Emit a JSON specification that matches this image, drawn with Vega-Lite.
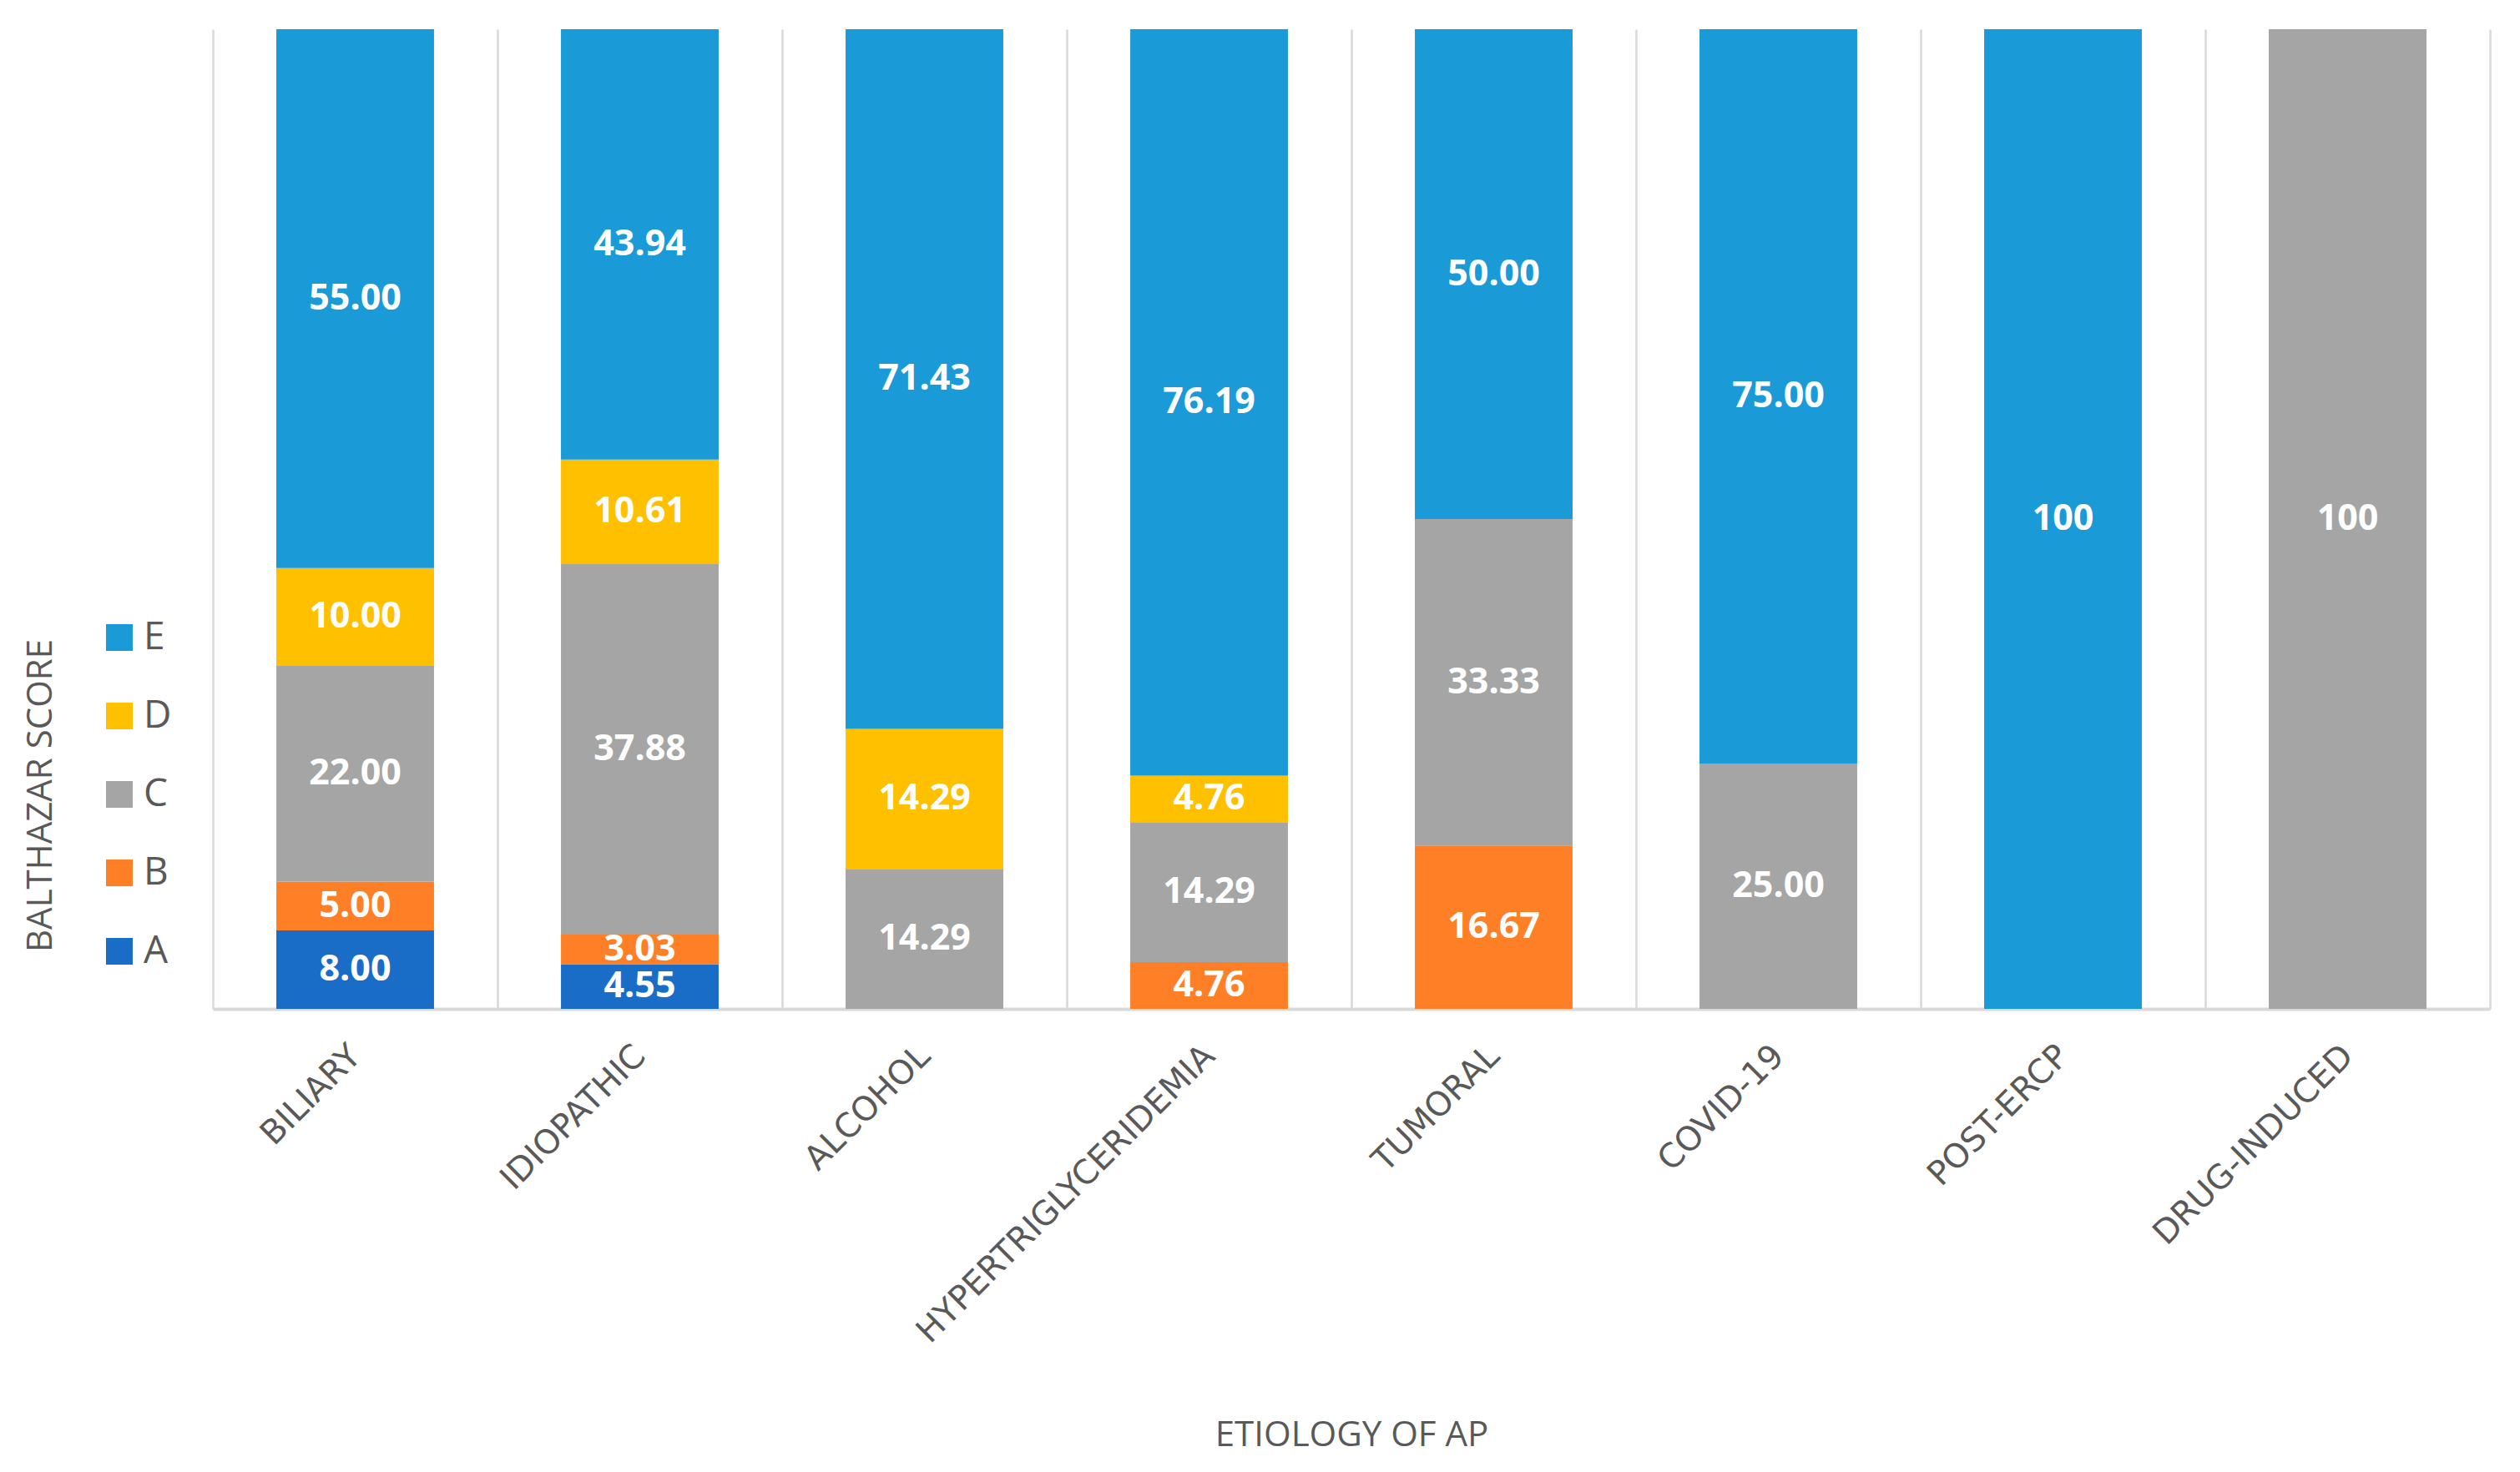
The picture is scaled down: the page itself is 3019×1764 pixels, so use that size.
{
  "$schema": "https://vega.github.io/schema/vega-lite/v6.json",
  "width": 2728,
  "height": 1174,
  "autosize": {"type": "none"},
  "padding": {"left": 255, "top": 35, "right": 36, "bottom": 555},
  "background": "white",
  "config": {"view": {"stroke": null}, "font": "Open Sans"},
  "data": {
    "values": [
      {"etiology": "BILIARY", "score": "A", "value": 8.00},
      {"etiology": "BILIARY", "score": "B", "value": 5.00},
      {"etiology": "BILIARY", "score": "C", "value": 22.00},
      {"etiology": "BILIARY", "score": "D", "value": 10.00},
      {"etiology": "BILIARY", "score": "E", "value": 55.00},
      {"etiology": "IDIOPATHIC", "score": "A", "value": 4.55},
      {"etiology": "IDIOPATHIC", "score": "B", "value": 3.03},
      {"etiology": "IDIOPATHIC", "score": "C", "value": 37.88},
      {"etiology": "IDIOPATHIC", "score": "D", "value": 10.61},
      {"etiology": "IDIOPATHIC", "score": "E", "value": 43.94},
      {"etiology": "ALCOHOL", "score": "C", "value": 14.29},
      {"etiology": "ALCOHOL", "score": "D", "value": 14.29},
      {"etiology": "ALCOHOL", "score": "E", "value": 71.43},
      {"etiology": "HYPERTRIGLYCERIDEMIA", "score": "B", "value": 4.76},
      {"etiology": "HYPERTRIGLYCERIDEMIA", "score": "C", "value": 14.29},
      {"etiology": "HYPERTRIGLYCERIDEMIA", "score": "D", "value": 4.76},
      {"etiology": "HYPERTRIGLYCERIDEMIA", "score": "E", "value": 76.19},
      {"etiology": "TUMORAL", "score": "B", "value": 16.67},
      {"etiology": "TUMORAL", "score": "C", "value": 33.33},
      {"etiology": "TUMORAL", "score": "E", "value": 50.00},
      {"etiology": "COVID-19", "score": "C", "value": 25.00},
      {"etiology": "COVID-19", "score": "E", "value": 75.00},
      {"etiology": "POST-ERCP", "score": "E", "value": 100},
      {"etiology": "DRUG-INDUCED", "score": "C", "value": 100}
    ]
  },
  "transform": [
    {"stack": "value", "groupby": ["etiology"], "sort": [{"field": "score", "order": "ascending"}], "as": ["v0", "v1"]},
    {"calculate": "(datum.v0 + datum.v1) / 2", "as": "mid"},
    {"calculate": "datum.value == 100 ? '100' : format(datum.value, '.2f')", "as": "label"}
  ],
  "encoding": {
    "x": {
      "field": "etiology",
      "type": "nominal",
      "sort": null,
      "scale": {"paddingInner": 0.446, "paddingOuter": 0.223},
      "axis": {
        "title": "ETIOLOGY OF AP",
        "titleFont": "Open Sans",
        "titleFontSize": 42,
        "titleFontWeight": "normal",
        "titleColor": "#595959",
        "titleY": 510,
        "titleBaseline": "middle",
        "labelAngle": -45,
        "labelAlign": "right",
        "labelBaseline": "middle",
        "labelPadding": 50,
        "labelLimit": 0,
        "labelFont": "DejaVu Sans",
        "labelFontSize": 40,
        "labelColor": "#595959",
        "ticks": false,
        "grid": true,
        "gridColor": "#D9D9D9",
        "gridWidth": 2.5,
        "bandPosition": 0,
        "tickOffset": -76,
        "labelOffset": 76,
        "domainColor": "#D9D9D9",
        "domainWidth": 4
      }
    }
  },
  "layer": [
    {
      "mark": {"type": "bar"},
      "encoding": {
        "y": {
          "field": "v0",
          "type": "quantitative",
          "scale": {"domain": [0, 100], "nice": false},
          "axis": {
            "title": "BALTHAZAR SCORE",
            "titleFont": "Open Sans",
            "titleFontSize": 42,
            "titleFontWeight": "normal",
            "titleColor": "#595959",
            "titleX": -207,
            "titleY": 918,
            "titleAngle": 270,
            "titleAlign": "center",
            "titleBaseline": "middle",
            "labels": false,
            "ticks": false,
            "domain": false,
            "grid": false
          }
        },
        "y2": {"field": "v1"},
        "color": {
          "field": "score",
          "type": "nominal",
          "scale": {
            "domain": ["E", "D", "C", "B", "A"],
            "range": ["#1A9BD7", "#FFC000", "#A5A5A5", "#FF7F27", "#1A6DC6"]
          },
          "legend": {
            "title": null,
            "orient": "none",
            "legendX": -135,
            "legendY": 706,
            "padding": 0,
            "symbolType": "square",
            "symbolSize": 1024,
            "symbolStrokeWidth": 0,
            "symbolOpacity": 1,
            "labelFont": "Open Sans",
            "labelFontSize": 46,
            "labelColor": "#595959",
            "labelOffset": 6,
            "rowPadding": 48
          }
        }
      }
    },
    {
      "mark": {"type": "text", "color": "white", "fontSize": 43, "fontWeight": "bold", "font": "Open Sans", "baseline": "middle"},
      "encoding": {
        "y": {
          "field": "mid",
          "type": "quantitative",
          "axis": {
            "orient": "right",
            "title": null,
            "labels": false,
            "ticks": false,
            "grid": false,
            "domain": true,
            "domainColor": "#D9D9D9",
            "domainWidth": 2.5
          }
        },
        "text": {"field": "label", "type": "nominal"}
      }
    }
  ],
  "resolve": {"axis": {"y": "independent"}}
}
